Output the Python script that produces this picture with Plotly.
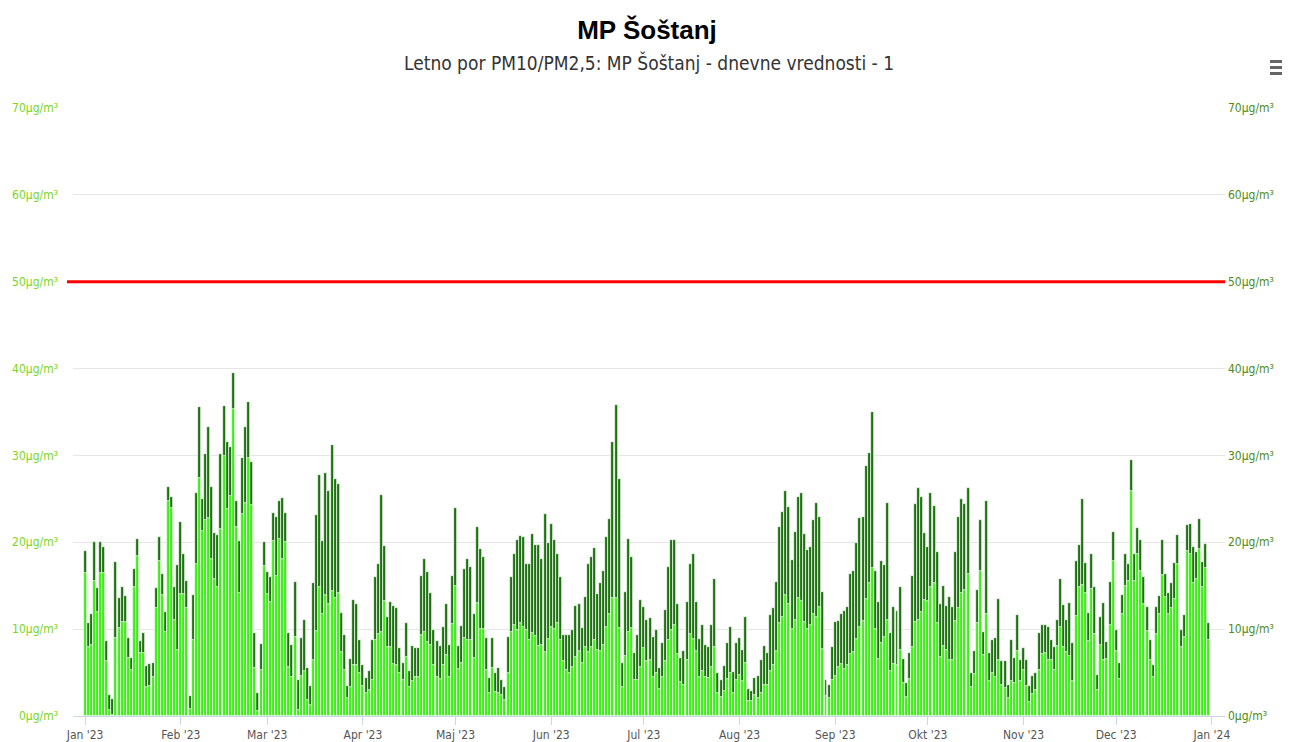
import pandas as pd
import plotly.graph_objects as go

TITLE = "MP Šoštanj"
SUBTITLE = "Letno por PM10/PM2,5: MP Šoštanj - dnevne vrednosti - 1"
START_DATE = "2023-01-01"
LIMIT = 50

PM10_JAN = [19.0, 10.7, 11.8, 20.0, 14.7, 20.0, 19.5, 8.6, 2.4, 2.0, 17.7, 13.6, 14.8, 13.8, 9.0, 6.7, 16.9, 20.4, 8.6, 9.5, 5.8, 6.0, 6.1, 14.7, 20.6, 16.3, 12.0, 26.4, 25.2, 14.8, 17.4]
PM25_JAN = [16.5, 7.9, 8.2, 15.5, 12.0, 16.5, 16.5, 6.3, 0.7, 0.1, 9.0, 10.1, 10.8, 10.8, 6.7, 5.3, 14.9, 18.4, 7.2, 7.2, 3.3, 3.5, 4.5, 12.4, 17.8, 13.9, 9.7, 24.7, 23.9, 11.1, 7.6]
PM10_FEB = [22.3, 18.7, 15.6, 2.3, 13.9, 25.7, 35.6, 25.0, 30.2, 33.3, 26.4, 21.1, 20.8, 30.2, 35.7, 31.5, 31.0, 39.5, 24.7, 20.1, 29.7, 33.3, 36.1, 29.3, 9.5, 2.6, 8.3, 20.0]
PM25_FEB = [14.0, 14.0, 12.4, 0.8, 8.8, 17.5, 27.4, 21.3, 22.6, 22.8, 18.1, 15.8, 14.9, 21.5, 29.9, 23.8, 25.3, 35.4, 21.8, 14.2, 23.2, 24.5, 29.7, 24.3, 5.5, 0.6, 5.3, 17.3]
PM10_MAR = [16.6, 16.0, 23.4, 22.9, 24.8, 25.1, 23.4, 9.5, 8.2, 15.4, 4.1, 9.0, 11.0, 5.5, 3.5, 15.3, 23.1, 27.7, 20.1, 28.0, 25.9, 31.2, 27.3, 26.7, 11.9, 9.3, 3.5, 6.6, 13.3, 12.9, 8.7]
PM25_MAR = [14.0, 13.1, 20.1, 16.1, 20.4, 18.1, 20.0, 5.6, 4.5, 9.1, 0.7, 4.6, 5.2, 1.8, 1.3, 6.4, 9.8, 14.8, 11.7, 13.9, 12.9, 14.4, 13.6, 14.2, 7.4, 5.3, 2.1, 3.3, 5.9, 5.9, 4.9]
PM10_APR = [5.9, 4.4, 5.2, 8.7, 16.0, 17.5, 25.4, 19.6, 11.4, 13.1, 12.7, 12.4, 7.8, 6.1, 10.7, 5.2, 8.1, 7.8, 7.8, 16.1, 18.1, 16.6, 14.2, 9.9, 8.6, 8.1, 10.2, 12.9, 8.2, 16.1]
PM25_APR = [3.5, 2.7, 3.0, 4.2, 8.7, 9.4, 9.7, 13.2, 8.0, 8.0, 6.0, 5.9, 5.0, 4.1, 6.8, 3.3, 4.0, 4.5, 4.5, 9.3, 9.7, 8.5, 8.2, 5.9, 4.5, 4.3, 5.9, 7.0, 4.5, 10.6]
PM10_MAY_JUN = [23.9, 8.1, 10.4, 16.9, 18.1, 17.1, 11.7, 21.8, 19.2, 18.3, 9.0, 4.4, 9.0, 4.9, 5.5, 4.1, 3.3, 9.1, 16.0, 18.7, 20.3, 20.7, 20.6, 17.5, 17.5, 21.0, 19.7, 19.7, 18.1, 23.3, 19.9, 22.1, 20.3, 18.7, 16.0, 9.3, 9.3, 9.3, 9.9, 12.7, 12.9, 10.1, 13.7, 17.5, 18.3, 19.4, 14.1, 15.3, 16.7, 20.6, 22.7, 31.6, 35.8, 27.3, 6.1, 14.3, 20.4, 18.3, 7.3, 9.3, 13.4]
PM25_MAY_JUN = [15.0, 5.4, 6.1, 9.0, 8.7, 8.7, 6.7, 13.0, 10.0, 10.0, 5.3, 2.7, 5.5, 2.8, 2.6, 2.4, 1.8, 4.9, 9.7, 10.5, 9.9, 10.7, 10.3, 9.9, 8.8, 9.5, 9.2, 8.1, 8.2, 7.4, 8.9, 10.3, 10.0, 10.7, 8.7, 6.3, 5.3, 5.0, 5.6, 6.8, 7.5, 6.1, 7.9, 7.4, 7.9, 8.7, 7.6, 7.5, 8.2, 10.3, 11.7, 13.6, 13.6, 10.1, 3.3, 6.9, 9.7, 10.1, 4.2, 4.2, 5.6]
PM10_JUL_AUG = [12.5, 11.0, 11.3, 9.1, 9.9, 5.5, 8.4, 12.2, 17.1, 20.3, 20.3, 12.9, 6.7, 7.5, 13.1, 17.5, 18.6, 13.1, 8.9, 10.5, 8.2, 8.0, 10.5, 15.8, 4.9, 4.1, 5.8, 8.4, 10.2, 5.1, 8.4, 9.0, 7.6, 11.4, 3.1, 2.9, 4.4, 4.6, 6.4, 8.1, 7.3, 11.6, 12.4, 15.4, 21.8, 23.5, 25.9, 24.1, 18.0, 21.2, 25.2, 25.7, 21.0, 19.1, 19.5, 22.6, 24.5, 22.9, 14.3, 4.1, 3.6]
PM25_JUL_AUG = [7.8, 6.3, 6.5, 4.5, 4.9, 3.1, 4.5, 6.3, 8.7, 9.9, 10.5, 7.1, 3.9, 3.6, 6.4, 9.4, 8.9, 7.5, 4.5, 5.2, 4.5, 4.4, 5.6, 7.9, 2.6, 2.2, 2.9, 4.3, 4.9, 2.7, 4.1, 4.7, 4.0, 6.1, 1.7, 1.7, 2.4, 2.1, 2.7, 3.6, 3.6, 5.2, 5.9, 7.5, 10.7, 11.4, 13.9, 12.9, 10.0, 11.0, 13.6, 13.2, 10.8, 10.0, 10.5, 11.7, 11.4, 12.6, 7.7, 2.3, 2.1]
PM10_SEP_OCT = [7.9, 10.8, 10.9, 11.8, 12.1, 12.6, 16.3, 16.7, 19.9, 22.8, 22.9, 28.8, 30.3, 35.0, 16.7, 13.1, 17.8, 17.4, 24.5, 9.6, 12.5, 12.1, 14.8, 6.6, 3.8, 7.3, 16.1, 24.4, 26.3, 25.2, 21.1, 19.5, 25.7, 24.2, 18.9, 12.9, 15.0, 12.7, 13.7, 12.5, 18.9, 22.9, 25.0, 24.4, 26.3, 5.0, 7.5, 14.5, 22.6, 9.7, 24.7, 7.3, 8.7, 9.0, 13.5, 6.3, 6.3, 3.6, 8.7, 6.7]
PM25_SEP_OCT = [4.1, 4.6, 5.6, 6.0, 5.4, 5.9, 7.1, 7.4, 8.9, 10.3, 10.9, 13.5, 15.3, 17.0, 10.0, 6.6, 8.4, 9.1, 11.0, 5.2, 6.0, 5.9, 7.6, 3.8, 2.2, 4.3, 7.9, 10.8, 11.0, 12.0, 13.4, 13.2, 14.8, 15.3, 10.7, 6.8, 8.1, 7.6, 6.4, 6.4, 10.9, 12.4, 14.2, 14.5, 16.3, 3.3, 4.8, 10.7, 16.7, 7.0, 11.7, 4.0, 4.9, 4.5, 6.4, 3.6, 3.2, 2.1, 4.0, 3.8]
PM10_NOV_DEC = [11.6, 6.4, 7.8, 6.4, 3.4, 4.6, 4.9, 9.5, 10.5, 10.5, 10.2, 8.7, 7.9, 11.1, 15.8, 12.8, 11.0, 13.0, 8.4, 17.8, 19.7, 25.0, 17.6, 11.9, 18.7, 14.8, 4.7, 11.4, 13.0, 8.5, 15.4, 21.2, 9.9, 6.1, 13.9, 18.6, 17.5, 29.5, 18.6, 21.7, 20.3, 16.0, 12.5, 8.7, 5.9, 12.5, 13.8, 20.3, 16.3, 14.2, 15.3, 17.6, 20.8, 9.9, 11.6, 22.0, 22.1, 19.5, 18.9, 22.7, 17.7, 19.8, 10.7]
PM25_NOV_DEC = [7.5, 4.0, 5.3, 3.4, 1.6, 2.5, 3.0, 5.3, 7.1, 7.3, 6.5, 6.5, 5.3, 8.1, 10.2, 7.9, 7.4, 6.9, 4.0, 11.5, 14.9, 15.1, 14.2, 8.6, 14.6, 9.4, 3.0, 8.2, 6.5, 6.6, 10.5, 17.8, 7.5, 4.3, 11.7, 15.0, 15.5, 25.9, 15.5, 18.6, 16.7, 12.9, 9.8, 6.4, 4.5, 9.4, 11.8, 16.2, 13.7, 11.7, 12.4, 13.5, 17.5, 7.9, 9.1, 19.0, 18.7, 15.3, 15.8, 19.2, 14.9, 17.0, 8.7]

MONTH_TICKS = ["2023-01-01", "2023-02-01", "2023-03-01", "2023-04-01", "2023-05-01", "2023-06-01",
               "2023-07-01", "2023-08-01", "2023-09-01", "2023-10-01", "2023-11-01", "2023-12-01", "2024-01-01"]
MONTH_LABELS = ["Jan '23", "Feb '23", "Mar '23", "Apr '23", "Maj '23", "Jun '23", "Jul '23",
                "Aug '23", "Sep '23", "Okt '23", "Nov '23", "Dec '23", "Jan '24"]
Y_TICKS = [0, 10, 20, 30, 40, 50, 60, 70]
Y_LABELS = [f"{v}µg/m³" for v in Y_TICKS]

pm10 = PM10_JAN + PM10_FEB + PM10_MAR + PM10_APR + PM10_MAY_JUN + PM10_JUL_AUG + PM10_SEP_OCT + PM10_NOV_DEC
pm25 = PM25_JAN + PM25_FEB + PM25_MAR + PM25_APR + PM25_MAY_JUN + PM25_JUL_AUG + PM25_SEP_OCT + PM25_NOV_DEC
dates = pd.date_range(START_DATE, periods=len(pm10), freq="D")

DAY_MS = 86400000
COND = "Liberation Sans Narrow, DejaVu Sans Condensed, Roboto Condensed, Arial Narrow, sans-serif"

fig = go.Figure()
fig.add_trace(go.Bar(x=dates, y=pm10, name="PM10", width=DAY_MS * 0.97,
                     marker=dict(color="#1d7210", line=dict(color="#ffffff", width=0.7))))
fig.add_trace(go.Bar(x=dates, y=pm25, name="PM2,5", width=DAY_MS * 0.97,
                     marker=dict(color="#3ded18", line=dict(color="#ffffff", width=0.7))))
fig.add_trace(go.Scatter(x=[dates[0]], y=[0], yaxis="y2", mode="markers",
                         marker=dict(opacity=0), hoverinfo="skip", showlegend=False))

# page body has an 8px margin; work in screen coordinates and subtract it
OFF = 8
W, H = 1290 - OFF, 742 - OFF
L, T = 73 - OFF, 108 - OFF
R = W - (1225 - OFF)
B = H - (716 - OFF)
pw, ph = W - L - R, H - T - B

def py(p):
    return 1 + (T - (p - OFF)) / ph

def px(p):
    return ((p - OFF) - L) / pw

fig.update_layout(
    width=W, height=H,
    margin=dict(l=L, r=R, t=T, b=B, autoexpand=False),
    barmode="overlay", bargap=0,
    plot_bgcolor="white", paper_bgcolor="white",
    showlegend=False,
    title=dict(text=f"<b>{TITLE}</b>", x=px(647), xref="paper", xanchor="center",
               y=1 - (30 - OFF) / H, yanchor="middle", yref="container",
               font=dict(family="Liberation Sans, Arial, sans-serif", size=26, color="#000000")),
    xaxis=dict(type="date", range=["2022-12-28T02:00", "2024-01-05T06:00"], automargin=False,
               tickvals=MONTH_TICKS, ticktext=MONTH_LABELS, ticks="outside", ticklen=8,
               tickcolor="#ccd6eb", showline=True, linecolor="#ccd6eb", linewidth=1,
               showgrid=False, zeroline=False,
               tickfont=dict(family=COND, size=12, color="#555555")),
    yaxis=dict(range=[0, 70], tickvals=Y_TICKS, ticktext=Y_LABELS, showgrid=True, automargin=False,
               gridcolor="#e6e6e6", gridwidth=1, zeroline=False, ticks="", ticklabelstandoff=14,
               tickfont=dict(family=COND, size=12, color="#7ad51e")),
    yaxis2=dict(range=[0, 70], overlaying="y", side="right", tickvals=Y_TICKS, ticktext=Y_LABELS,
                showgrid=False, zeroline=False, ticks="", automargin=False, ticklabelstandoff=2,
                tickfont=dict(family=COND, size=12, color="#4e8a14")),
    shapes=[
        dict(type="line", xref="paper", yref="y", x0=px(67), x1=1, y0=LIMIT, y1=LIMIT,
             line=dict(color="#ff0000", width=3)),
        dict(type="rect", xref="paper", yref="paper", x0=px(1270), x1=px(1285), y0=py(63), y1=py(60),
             fillcolor="#666666", line=dict(width=0)),
        dict(type="rect", xref="paper", yref="paper", x0=px(1270), x1=px(1285), y0=py(69), y1=py(66),
             fillcolor="#666666", line=dict(width=0)),
        dict(type="rect", xref="paper", yref="paper", x0=px(1270), x1=px(1285), y0=py(75), y1=py(72),
             fillcolor="#666666", line=dict(width=0)),
    ],
    annotations=[
        dict(text=SUBTITLE, xref="paper", yref="paper", x=px(649), y=py(62), xanchor="center",
             yanchor="middle", showarrow=False,
             font=dict(family=COND, size=19, color="#333333")),
    ],
)

fig.write_html("out.html")
